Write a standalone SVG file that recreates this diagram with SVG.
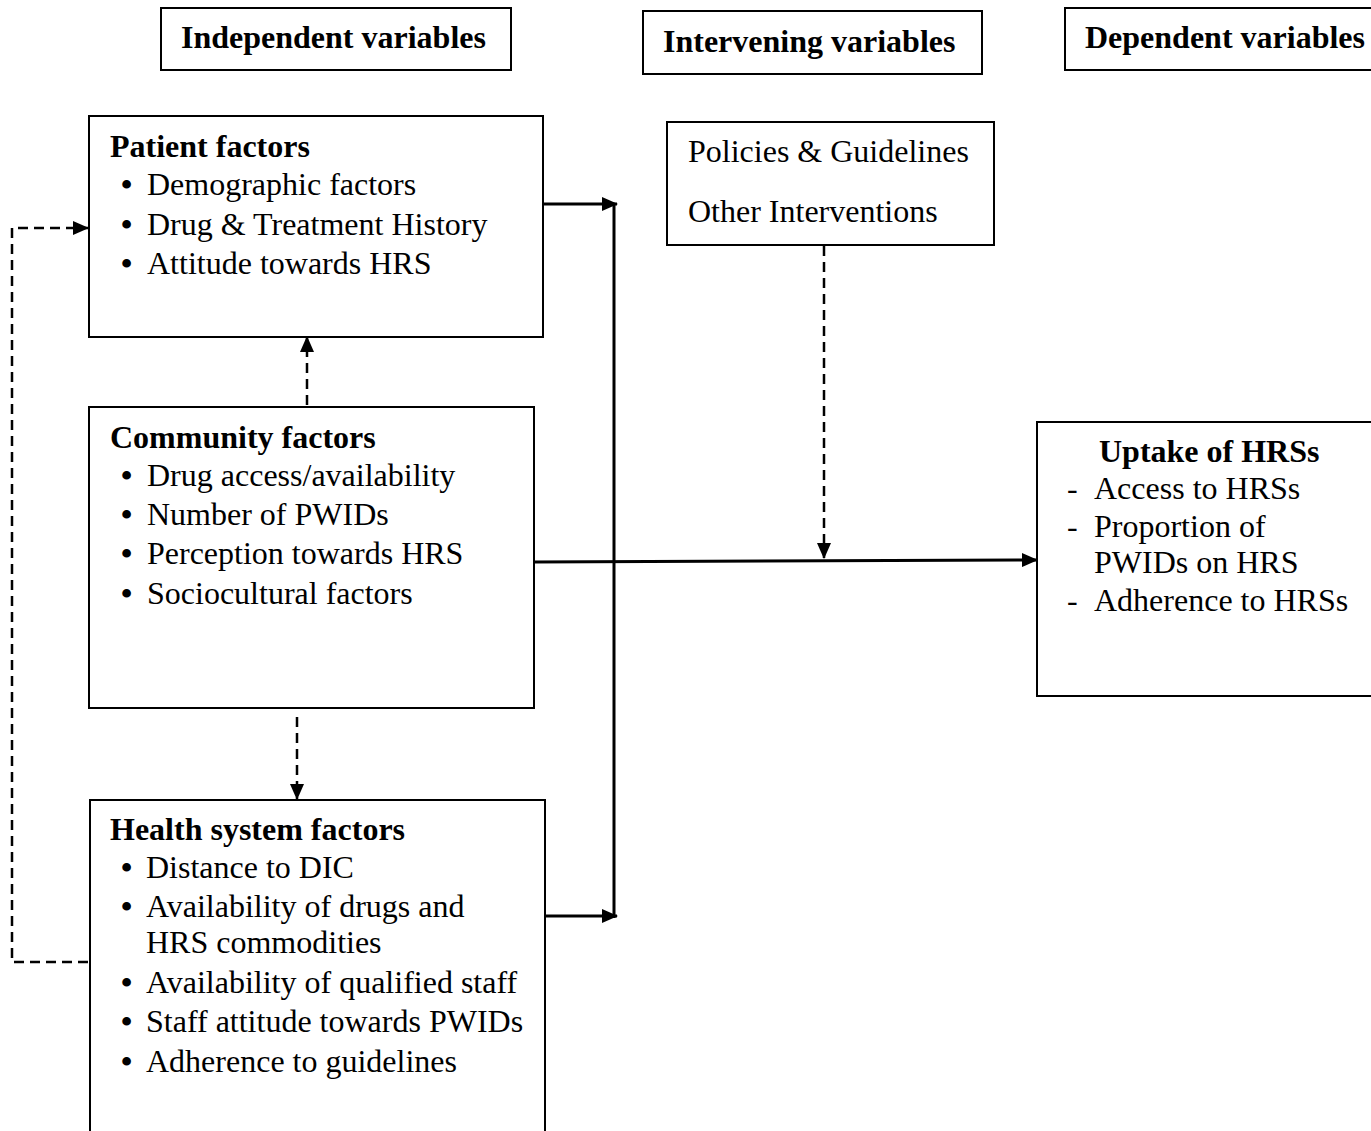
<svg xmlns="http://www.w3.org/2000/svg" width="1371" height="1131" viewBox="0 0 1371 1131">
<defs>
<style>
.box{fill:#fff;stroke:#000;stroke-width:2}
.t{font-family:"Liberation Serif","Times New Roman",serif;font-size:32px;fill:#000}
.b{font-weight:bold}
.bu{font-weight:bold}
.solid{fill:none;stroke:#000;stroke-width:3}
.dash{fill:none;stroke:#000;stroke-width:2.5;stroke-dasharray:10,6}
</style>
<marker id="ah" markerWidth="16" markerHeight="14" refX="15" refY="7" orient="auto" markerUnits="userSpaceOnUse">
<path d="M0,0 L16,7 L0,14 Z" fill="#000"/>
</marker>
</defs>
<rect width="1371" height="1131" fill="#fff"/>
<g id="hdr-independent">
<rect class="box" x="161" y="8" width="350" height="62"/>
<text class="t b" x="181" y="48">Independent variables</text>
</g>
<g id="hdr-intervening">
<rect class="box" x="643" y="11" width="339" height="63"/>
<text class="t b" x="663" y="52">Intervening variables</text>
</g>
<g id="hdr-dependent">
<rect class="box" x="1065" y="8" width="310" height="62"/>
<text class="t b" x="1085" y="48">Dependent variables</text>
</g>
<g id="patient">
<rect class="box" x="89" y="116" width="454" height="221"/>
<text class="t b" x="110" y="157">Patient factors</text>
<text class="t" y="195"><tspan class="bu" x="121">•</tspan><tspan x="147">Demographic factors</tspan></text>
<text class="t" y="235"><tspan class="bu" x="121">•</tspan><tspan x="147">Drug &amp; Treatment History</tspan></text>
<text class="t" y="274"><tspan class="bu" x="121">•</tspan><tspan x="147">Attitude towards HRS</tspan></text>
</g>
<g id="community">
<rect class="box" x="89" y="407" width="445" height="301"/>
<text class="t b" x="110" y="448">Community factors</text>
<text class="t" y="486"><tspan class="bu" x="121">•</tspan><tspan x="147">Drug access/availability</tspan></text>
<text class="t" y="525"><tspan class="bu" x="121">•</tspan><tspan x="147">Number of PWIDs</tspan></text>
<text class="t" y="564"><tspan class="bu" x="121">•</tspan><tspan x="147">Perception towards HRS</tspan></text>
<text class="t" y="604"><tspan class="bu" x="121">•</tspan><tspan x="147">Sociocultural factors</tspan></text>
</g>
<g id="health">
<rect class="box" x="90" y="800" width="455" height="340"/>
<text class="t b" x="110" y="840">Health system factors</text>
<text class="t" y="878"><tspan class="bu" x="121">•</tspan><tspan x="146">Distance to DIC</tspan></text>
<text class="t" y="917"><tspan class="bu" x="121">•</tspan><tspan x="146">Availability of drugs and</tspan></text>
<text class="t" x="146" y="953">HRS commodities</text>
<text class="t" y="993"><tspan class="bu" x="121">•</tspan><tspan x="146">Availability of qualified staff</tspan></text>
<text class="t" y="1032"><tspan class="bu" x="121">•</tspan><tspan x="146">Staff attitude towards PWIDs</tspan></text>
<text class="t" y="1072"><tspan class="bu" x="121">•</tspan><tspan x="146">Adherence to guidelines</tspan></text>
</g>
<g id="intervening">
<rect class="box" x="667" y="122" width="327" height="123"/>
<text class="t" x="688" y="162">Policies &amp; Guidelines</text>
<text class="t" x="688" y="222">Other Interventions</text>
</g>
<g id="uptake">
<rect class="box" x="1037" y="422" width="340" height="274"/>
<text class="t b" x="1099" y="462">Uptake of HRSs</text>
<text class="t" y="499"><tspan x="1067">-</tspan><tspan x="1094">Access to HRSs</tspan></text>
<text class="t" y="537"><tspan x="1067">-</tspan><tspan x="1094">Proportion of</tspan></text>
<text class="t" x="1094" y="573">PWIDs on HRS</text>
<text class="t" y="611"><tspan x="1067">-</tspan><tspan x="1094">Adherence to HRSs</tspan></text>
</g>
<g id="connectors">
<line class="solid" x1="543" y1="204" x2="617" y2="204" marker-end="url(#ah)"/>
<line class="solid" x1="545" y1="916" x2="617" y2="916" marker-end="url(#ah)"/>
<line class="solid" x1="614" y1="204" x2="614" y2="918"/>
<line class="solid" x1="534" y1="562" x2="1037" y2="560" marker-end="url(#ah)"/>
<line class="dash" x1="824" y1="246" x2="824" y2="558" marker-end="url(#ah)"/>
<line class="dash" x1="307" y1="405" x2="307" y2="337" marker-end="url(#ah)"/>
<line class="dash" x1="297" y1="717" x2="297" y2="799" marker-end="url(#ah)"/>
<polyline class="dash" points="88,962 12,962 12,228 88,228" marker-end="url(#ah)"/>
</g>
</svg>
